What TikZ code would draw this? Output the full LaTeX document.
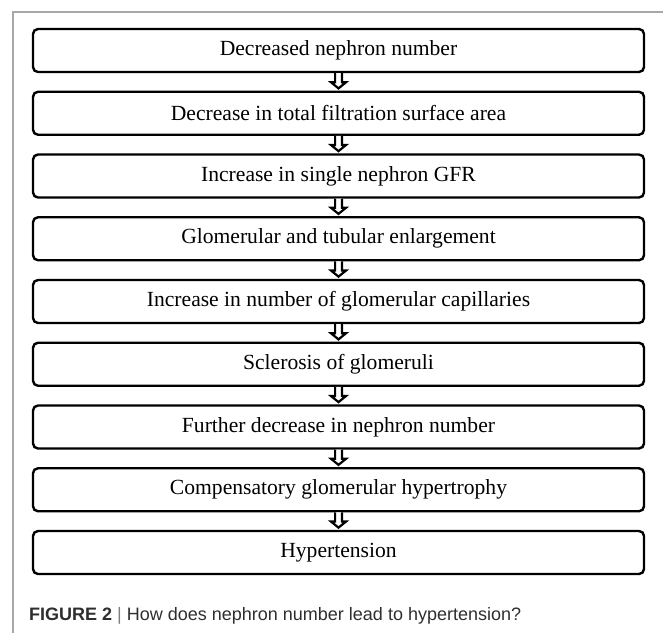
\documentclass[tikz,border=0pt]{standalone}
\usepackage{fontspec}
\setmainfont{Liberation Serif}
\newfontfamily\capfont{Liberation Sans}
\usetikzlibrary{calc}
\definecolor{framegray}{HTML}{A8A8A8}
\definecolor{captext}{HTML}{2E2E2E}
\tikzset{
  stepbox/.style={draw=black, line width=2.4pt, rounded corners=5pt,
    minimum width=611pt, minimum height=43pt, inner sep=0pt,
    font=\fontsize{21.6}{25}\selectfont},
  hollowarrow/.style={draw=black, fill=white, line width=2.2pt, miter limit=10}
}
\begin{document}
\begin{tikzpicture}[x=1pt,y=-1pt]
  \useasboundingbox (0,0) rectangle (663,633);
  % frame lines (top and left)
  \draw[framegray, line width=1.3pt] (13,633) -- (13,12) -- (663,12);

  % flow boxes
  \foreach \i/\t in {1/Decreased nephron number,
                     2/Decrease in total filtration surface area,
                     3/Increase in single nephron GFR,
                     4/Glomerular and tubular enlargement,
                     5/Increase in number of glomerular capillaries,
                     6/Sclerosis of glomeruli,
                     7/Further decrease in nephron number,
                     8/Compensatory glomerular hypertrophy,
                     9/Hypertension}
    \node[stepbox] (b\i) at (338.5, {50.5+62.75*(\i-1)}) {\t};

  % hollow block arrows between consecutive boxes
  \foreach \i [evaluate=\i as \j using int(\i+1)] in {1,...,8} {
    \draw[hollowarrow]
      ($(b\i.south)+(-3.4,0)$) -- ($(b\i.south)+(-3.4,9)$)
      -- ($(b\i.south)+(-7.6,9)$) -- ($(b\j.north)+(0,-2.2)$)
      -- ($(b\i.south)+(7.6,9)$) -- ($(b\i.south)+(3.4,9)$)
      -- ($(b\i.south)+(3.4,0)$);
  }

  % caption
  \node[anchor=base west, inner sep=0pt, text=captext,
        font=\capfont\fontsize{18}{21}\selectfont] (cap) at (29,620)
    {\textbf{FIGURE 2} \textcolor{gray}{|} How does nephron number lead to hypertension?};
\end{tikzpicture}
\end{document}
